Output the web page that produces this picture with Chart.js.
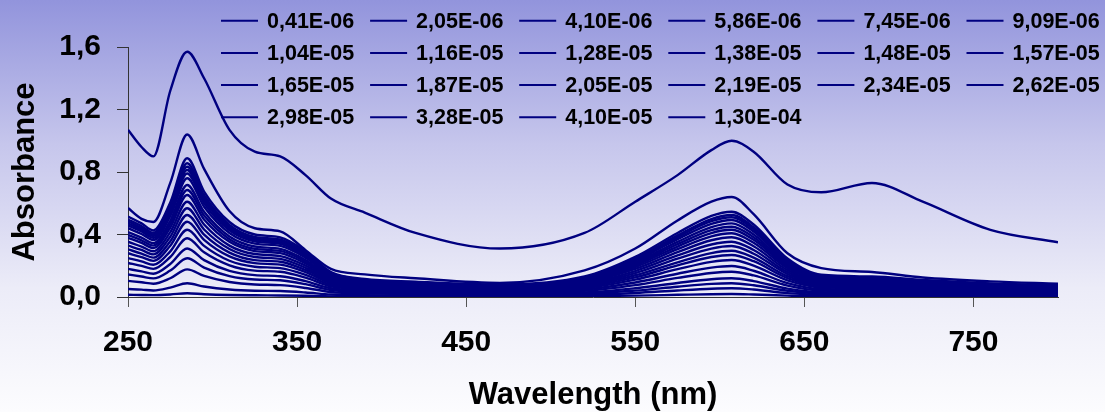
<!DOCTYPE html>
<html><head><meta charset="utf-8">
<script src="https://cdn.jsdelivr.net/npm/chart.js@4.4.0/dist/chart.umd.min.js"></script>
<style>
html,body{margin:0;padding:0;}
body{width:1105px;height:412px;overflow:hidden;
background:linear-gradient(to bottom, rgb(146,148,220) 0%, rgb(198,198,236) 35%, rgb(236,236,248) 70%, rgb(252,252,254) 100%);}
#wrap{position:relative;width:1105px;height:412px;}
</style></head><body>
<div id="wrap"><canvas id="c" width="1105" height="412"></canvas></div>
<script>
// Wavelength sample points (nm)
const wavelengths = [250,258,265,275,285,295,310,325,340,355,370,390,420,470,520,550,575,595,607,620,640,660,690,720,760,800];
// Concentration labels (legend)
const concentrations = ["0,41E-06","2,05E-06","4,10E-06","5,86E-06","7,45E-06","9,09E-06",
  "1,04E-05","1,16E-05","1,28E-05","1,38E-05","1,48E-05","1,57E-05",
  "1,65E-05","1,87E-05","2,05E-05","2,19E-05","2,34E-05","2,62E-05",
  "2,98E-05","3,28E-05","4,10E-05","1,30E-04"];
// Absorbance values per concentration
const a00 = [0.014,0.013,0.012,0.016,0.024,0.018,0.013,0.011,0.010,0.008,0.004,0.003,0.003,0.002,0.005,0.009,0.014,0.018,0.019,0.016,0.009,0.005,0.005,0.004,0.003,0.003];
const a01 = [0.051,0.047,0.042,0.060,0.088,0.067,0.048,0.040,0.038,0.029,0.016,0.011,0.010,0.008,0.013,0.026,0.042,0.053,0.056,0.048,0.025,0.015,0.013,0.011,0.009,0.008];
const a02 = [0.103,0.094,0.085,0.120,0.177,0.135,0.096,0.080,0.076,0.058,0.032,0.023,0.019,0.016,0.021,0.041,0.066,0.084,0.088,0.075,0.040,0.023,0.021,0.018,0.014,0.012];
const a03 = [0.144,0.131,0.119,0.169,0.248,0.188,0.134,0.112,0.107,0.082,0.045,0.032,0.027,0.022,0.029,0.056,0.090,0.114,0.120,0.102,0.054,0.031,0.029,0.024,0.019,0.017];
const a04 = [0.180,0.164,0.149,0.211,0.310,0.236,0.167,0.140,0.133,0.102,0.056,0.040,0.034,0.028,0.039,0.076,0.122,0.154,0.162,0.138,0.073,0.042,0.039,0.032,0.026,0.023];
const a05 = [0.218,0.199,0.180,0.256,0.376,0.286,0.203,0.169,0.162,0.124,0.068,0.049,0.041,0.034,0.048,0.093,0.149,0.188,0.198,0.168,0.089,0.051,0.048,0.040,0.032,0.028];
const a06 = [0.249,0.228,0.206,0.292,0.430,0.327,0.232,0.194,0.185,0.142,0.077,0.056,0.047,0.039,0.057,0.111,0.178,0.225,0.237,0.201,0.107,0.062,0.057,0.047,0.038,0.033];
const a07 = [0.280,0.255,0.231,0.328,0.482,0.366,0.260,0.217,0.207,0.159,0.087,0.063,0.053,0.043,0.065,0.126,0.202,0.256,0.269,0.229,0.121,0.070,0.065,0.054,0.043,0.038];
const a08 = [0.305,0.278,0.252,0.357,0.525,0.399,0.284,0.236,0.226,0.173,0.095,0.068,0.058,0.047,0.071,0.139,0.222,0.281,0.296,0.252,0.133,0.077,0.071,0.059,0.047,0.041];
const a09 = [0.329,0.301,0.273,0.386,0.568,0.432,0.307,0.256,0.244,0.187,0.102,0.074,0.062,0.051,0.078,0.153,0.245,0.310,0.326,0.277,0.147,0.085,0.078,0.065,0.052,0.046];
const a10 = [0.354,0.323,0.293,0.415,0.610,0.464,0.329,0.275,0.262,0.201,0.110,0.079,0.067,0.055,0.085,0.166,0.266,0.336,0.354,0.301,0.159,0.092,0.085,0.071,0.057,0.050];
const a11 = [0.379,0.346,0.313,0.444,0.653,0.496,0.353,0.294,0.281,0.215,0.118,0.085,0.072,0.059,0.092,0.180,0.287,0.363,0.382,0.325,0.172,0.099,0.092,0.076,0.061,0.053];
const a12 = [0.397,0.363,0.329,0.466,0.685,0.521,0.370,0.308,0.295,0.226,0.123,0.089,0.075,0.062,0.098,0.192,0.306,0.388,0.408,0.347,0.184,0.106,0.098,0.082,0.065,0.057];
const a13 = [0.416,0.380,0.344,0.488,0.717,0.545,0.387,0.323,0.308,0.237,0.129,0.093,0.079,0.065,0.103,0.202,0.323,0.409,0.430,0.366,0.194,0.112,0.103,0.086,0.069,0.060];
const a14 = [0.441,0.403,0.365,0.517,0.760,0.578,0.410,0.342,0.327,0.251,0.137,0.099,0.084,0.068,0.108,0.212,0.338,0.428,0.450,0.383,0.203,0.117,0.108,0.090,0.072,0.063];
const a15 = [0.458,0.419,0.379,0.537,0.790,0.600,0.427,0.356,0.340,0.261,0.142,0.103,0.087,0.071,0.113,0.221,0.353,0.447,0.471,0.400,0.212,0.122,0.113,0.094,0.075,0.066];
const a16 = [0.472,0.431,0.390,0.553,0.813,0.618,0.439,0.366,0.350,0.268,0.146,0.106,0.089,0.073,0.118,0.232,0.370,0.468,0.493,0.419,0.222,0.128,0.118,0.099,0.079,0.069];
const a17 = [0.484,0.442,0.400,0.567,0.834,0.634,0.450,0.375,0.359,0.275,0.150,0.108,0.092,0.075,0.122,0.240,0.383,0.485,0.510,0.434,0.230,0.133,0.122,0.102,0.082,0.071];
const a18 = [0.496,0.454,0.411,0.582,0.856,0.651,0.462,0.385,0.368,0.282,0.154,0.111,0.094,0.077,0.126,0.247,0.394,0.499,0.525,0.446,0.236,0.137,0.126,0.105,0.084,0.074];
const a19 = [0.515,0.471,0.426,0.604,0.888,0.675,0.480,0.400,0.382,0.293,0.160,0.115,0.098,0.080,0.131,0.257,0.410,0.519,0.546,0.464,0.246,0.142,0.131,0.109,0.087,0.076];
const a20 = [0.57,0.50,0.48,0.73,1.04,0.82,0.55,0.44,0.42,0.30,0.18,0.145,0.12,0.09,0.17,0.31,0.49,0.61,0.64,0.53,0.28,0.185,0.16,0.125,0.10,0.085];
const a21 = [1.07,0.96,0.90,1.32,1.57,1.40,1.07,0.93,0.90,0.78,0.63,0.54,0.41,0.31,0.41,0.61,0.78,0.94,1.00,0.93,0.72,0.67,0.73,0.61,0.43,0.35];
const seriesValues = [a00,a01,a02,a03,a04,a05,a06,a07,a08,a09,a10,a11,a12,a13,a14,a15,a16,a17,a18,a19,a20,a21];
// Tick labels
const xTicks = [250,350,450,550,650,750];
const yTicks = [0,0.4,0.8,1.2,1.6];

const FONT = '"Liberation Sans", Arial, Helvetica, sans-serif';
Chart.defaults.font.family = FONT;

const gridLegend = {
  id: 'gridLegend',
  afterDraw(chart) {
    const ctx = chart.ctx;
    ctx.save();
    ctx.font = 'bold 21.5px ' + FONT;
    ctx.textBaseline = 'middle';
    ctx.textAlign = 'left';
    chart.data.datasets.forEach((ds, i) => {
      const col = i % 6, row = Math.floor(i / 6);
      const x = 221 + col * 149.1, y = 20.7 + row * 32.2;
      ctx.strokeStyle = ds.borderColor; ctx.lineWidth = 2;
      ctx.beginPath(); ctx.moveTo(x, y); ctx.lineTo(x + 37, y); ctx.stroke();
      ctx.fillStyle = '#000';
      ctx.fillText(ds.label, x + 46, y + 1);
    });
    ctx.restore();
  }
};

const datasets = seriesValues.map((vals, i) => ({
  label: concentrations[i],
  data: vals.map((v, j) => ({x: wavelengths[j], y: v})),
  borderColor: '#000080',
  backgroundColor: '#000080',
  borderWidth: 2.4,
  pointRadius: 0,
  fill: false,
  cubicInterpolationMode: 'monotone'
}));

new Chart(document.getElementById('c'), {
  type: 'line',
  data: { datasets },
  plugins: [gridLegend],
  options: {
    responsive: false,
    animation: false,
    devicePixelRatio: 1,
    layout: { padding: { top: 47, right: 47, left: 0, bottom: 0 } },
    plugins: { legend: { display: false }, tooltip: { enabled: false } },
    scales: {
      x: {
        type: 'linear', min: 250, max: 800,
        afterBuildTicks: s => { s.ticks = xTicks.map(v => ({ value: v })); },
        afterFit: s => { s.height = 115; },
        ticks: { font: { size: 30, weight: 'bold' }, color: '#000', padding: 18, maxRotation: 0, autoSkip: false,
                 callback: v => String(v) },
        grid: { drawOnChartArea: false, drawTicks: true, tickLength: 10, color: '#555' },
        border: { color: '#333', width: 1 },
        title: { display: true, text: 'Wavelength (nm)', color: '#000', font: { size: 31, weight: 'bold' }, padding: { top: 0, bottom: -2 } }
      },
      y: {
        min: 0, max: 1.6,
        afterBuildTicks: s => { s.ticks = yTicks.map(v => ({ value: v })); },
        afterFit: s => { s.width = 128; },
        ticks: { font: { size: 30, weight: 'bold' }, color: '#000', padding: 16,
                 callback: v => v.toFixed(1).replace('.', ',') },
        grid: { drawOnChartArea: false, drawTicks: true, tickLength: 11, color: '#333' },
        border: { color: '#333', width: 1 },
        title: { display: true, text: 'Absorbance', color: '#000', font: { size: 31, weight: 'bold' }, padding: { top: 7, bottom: 0 } }
      }
    }
  }
});
</script>
</body></html>
